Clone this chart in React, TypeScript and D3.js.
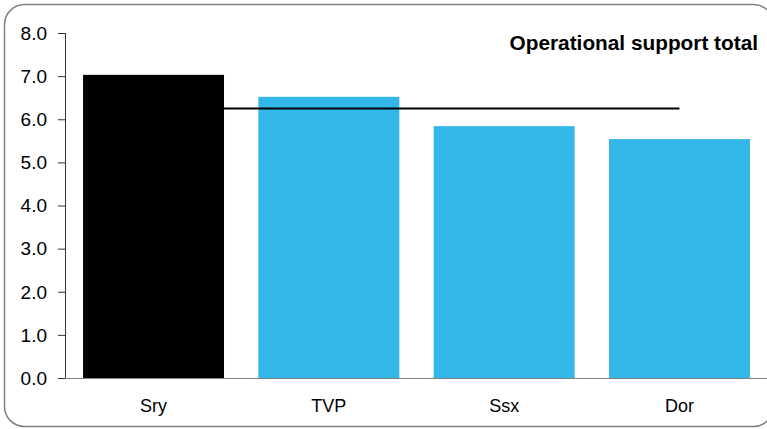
import React from "react";
import * as d3 from "d3";

const categories = ["Sry", "TVP", "Ssx", "Dor"];
const values = [7.03, 6.52, 5.84, 5.54];
const barColors = ["#000000", "#33B7E8", "#33B7E8", "#33B7E8"];
const averageValue = 6.25;
const yTicks = [0, 1, 2, 3, 4, 5, 6, 7, 8];
const title = "Operational support total";

const W = 767;
const H = 429;
const margin = { left: 65, right: -1, top: 33, bottom: 51 };

export default function App() {
  const x = d3
    .scaleBand<string>()
    .domain(categories)
    .range([margin.left, W - margin.right])
    .paddingInner(0.196)
    .paddingOuter(0.103);
  const y = d3.scaleLinear().domain([0, 8]).range([H - margin.bottom, margin.top]);
  const font = "Arial, 'Liberation Sans', Helvetica, sans-serif";
  const first = categories[0];
  const last = categories[categories.length - 1];
  const lineX1 = (x(first) ?? 0) + x.bandwidth() / 2;
  const lineX2 = (x(last) ?? 0) + x.bandwidth() / 2;

  return (
    <svg
      width={W}
      height={H}
      style={{ position: "absolute", left: 0, top: 0, display: "block" }}
      fontFamily={font}
    >
      <rect x={0} y={0} width={W} height={H} fill="#fff" />
      <rect
        x={4.5}
        y={4.5}
        width={769}
        height={422}
        rx={20}
        ry={20}
        fill="#fff"
        stroke="#808080"
        strokeWidth={1.5}
      />
      {categories.map((c, i) => (
        <rect
          key={c}
          x={x(c)}
          y={y(values[i])}
          width={x.bandwidth()}
          height={y(0) - y(values[i])}
          fill={barColors[i]}
        />
      ))}
      <line
        x1={lineX1}
        x2={lineX2}
        y1={y(averageValue)}
        y2={y(averageValue)}
        stroke="#000"
        strokeWidth={2}
      />
      {/* y axis */}
      <line x1={margin.left + 0.5} x2={margin.left + 0.5} y1={y(8)} y2={y(0)} stroke="#333" strokeWidth={1} />
      {yTicks.map((t) => (
        <g key={t}>
          <line x1={margin.left - 7} x2={margin.left} y1={y(t) + 0.5} y2={y(t) + 0.5} stroke="#333" strokeWidth={1} />
          <text x={47} y={y(t)} dy="0.36em" textAnchor="end" fontSize={19} fill="#000">
            {t.toFixed(1)}
          </text>
        </g>
      ))}
      {/* x axis */}
      <line x1={margin.left} x2={W} y1={y(0) + 0.5} y2={y(0) + 0.5} stroke="#808080" strokeWidth={1} />
      {categories.map((c) => (
        <text
          key={c}
          x={(x(c) ?? 0) + x.bandwidth() / 2}
          y={412}
          textAnchor="middle"
          fontSize={18}
          fill="#000"
        >
          {c}
        </text>
      ))}
      <text x={758} y={50} textAnchor="end" fontSize={20.8} fontWeight="bold" fill="#000">
        {title}
      </text>
    </svg>
  );
}
